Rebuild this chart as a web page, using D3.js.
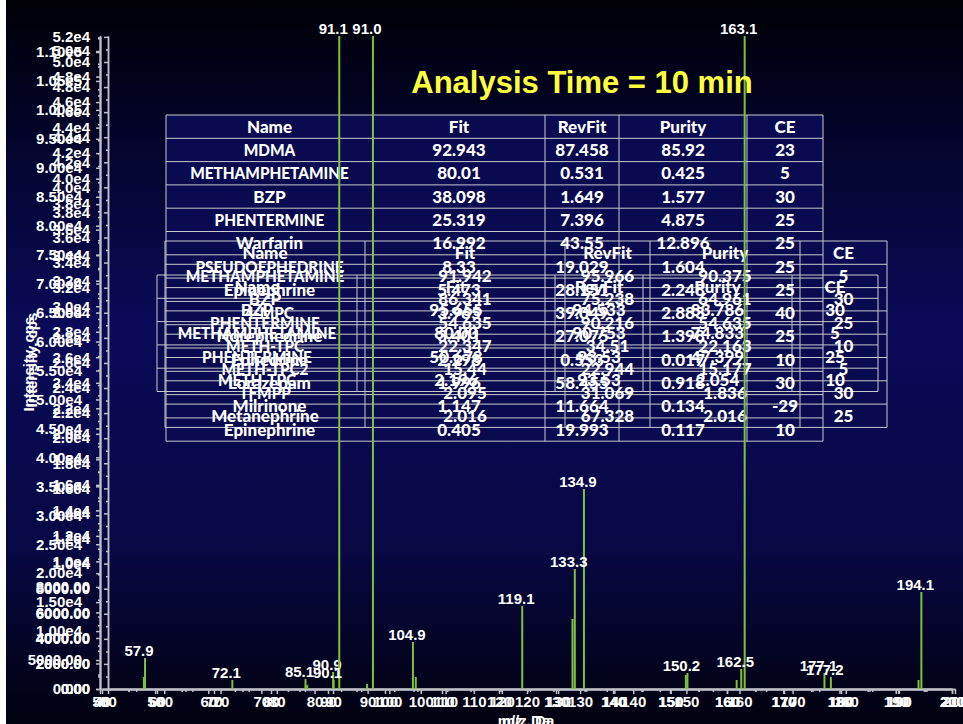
<!DOCTYPE html>
<html>
<head>
<meta charset="utf-8">
<title>Analysis Time = 10 min</title>
<script src="https://cdn.jsdelivr.net/npm/d3@7"></script>
<style>
  body { margin: 0; background: #000; }
  svg text { font-family: "Liberation Sans", Arial, sans-serif; font-weight: bold; }
  .tbl text { font-family: Lato, "Open Sans", sans-serif; font-size: 17px; font-weight: 900; }
</style>
</head>
<body>
<svg id="chart" width="963" height="724"></svg>
<script>
// spectrum 1 (x1 / yB)
var s1Mz  = [57.7, 57.9, 90.9, 104.9, 105.4, 132.9, 133.3, 134.9, 161.7, 162.5, 163.1, 177.1, 193.6, 194.1];
var s1Int = [2070, 5350, 2940, 8120, 2070, 12090, 20720, 34540, 1550, 3450, 112760, 2760, 1550, 16750];
var s1Lab = [57.9, 90.9, 104.9, 133.3, 134.9, 162.5, 163.1, 177.1, 194.1];
// spectrum 2 (x2 / yA2)
var s2Mz  = [89.9, 91.0, 119.1, 149.9, 150.2, 177.2];
var s2Int = [400, 52070, 6620, 1120, 1280, 960];
var s2Lab = [91.0, 119.1, 150.2, 177.2];
// spectrum 3 (x3 / yA1)
var s3Mz  = [72.1, 85.1, 85.4, 90.1, 91.1];
var s3Int = [705, 780, 310, 705, 51180];
var s3Lab = [72.1, 85.1, 90.1, 91.1];

// result tables
var header = ["Name", "Fit", "RevFit", "Purity", "CE"];
var t1Name   = ["MDMA", "METHAMPHETAMINE", "BZP", "PHENTERMINE", "Warfarin", "PSEUDOEPHEDRINE", "Epinephrine", "4-MPC", "Norephedrine", "Ephedrine", "Lorazepam", "Milrinone", "Epinephrine"];
var t1Fit    = ["92.943", "80.01", "38.098", "25.319", "16.992", "8.33", "5.473", "3.965", "3.401", "2.298", "1.996", "1.147", "0.405"];
var t1RevFit = ["87.458", "0.531", "1.649", "7.396", "43.55", "19.029", "28.151", "39.049", "27.075", "0.553", "58.455", "11.664", "19.993"];
var t1Purity = ["85.92", "0.425", "1.577", "4.875", "12.896", "1.604", "2.248", "2.883", "1.398", "0.017", "0.918", "0.134", "0.117"];
var t1CE     = ["23", "5", "30", "25", "25", "25", "25", "40", "25", "10", "30", "-29", "10"];

var t2Name   = ["METHAMPHETAMINE", "BZP", "PHENTERMINE", "METH-TPC", "METH-TPC2", "TFMPP", "Metanephrine"];
var t2Fit    = ["91.942", "86.341", "54.635", "22.347", "15.44", "2.095", "2.016"];
var t2RevFit = ["95.966", "75.238", "90.216", "34.51", "22.944", "31.069", "67.328"];
var t2Purity = ["90.375", "64.961", "54.635", "22.163", "15.177", "1.836", "2.016"];
var t2CE     = ["5", "30", "25", "10", "5", "30", "25"];

var t3Name   = ["BZP", "METHAMPHETAMINE", "PHENTERMINE", "METH-TPC"];
var t3Fit    = ["95.655", "80.00", "50.678", "2.196"];
var t3RevFit = ["94.533", "90.753", "93.53", "93.53"];
var t3Purity = ["83.786", "74.833", "47.399", "2.054"];
var t3CE     = ["30", "5", "25", "10"];

var W = 963, H = 724;
var yBase = 689, yTop = 36;
var svg = d3.select("#chart");

// background
var grad = svg.append("defs").append("linearGradient")
  .attr("id", "bg").attr("x1", 0).attr("y1", 0).attr("x2", 0).attr("y2", 1);
[[0, "#000006"], [0.12, "#02021e"], [0.45, "#0a0a58"], [0.75, "#080845"], [1, "#01010f"]]
  .forEach(function(s) { grad.append("stop").attr("offset", s[0]).attr("stop-color", s[1]); });
svg.append("rect").attr("width", W).attr("height", H).attr("fill", "url(#bg)");
svg.append("rect").attr("width", 6).attr("height", H).attr("fill", "#fff");

// scales
var x1 = d3.scaleLinear().domain([50, 200]).range([100, 955]);
var x2 = d3.scaleLinear().domain([40, 200]).range([102, 952]);
var x3 = d3.scaleLinear().domain([50, 200]).range([108, 952]);
var yB  = d3.scaleLinear().domain([0, 112760]).range([yBase, yTop]);
var yA1 = d3.scaleLinear().domain([0, 51180]).range([yBase, yTop]);
var yA2 = d3.scaleLinear().domain([0, 52070]).range([yBase, yTop]);

// tables
function rows(n, f, r, p, c) {
  return [header].concat(n.map(function(d, i) { return [d, f[i], r[i], p[i], c[i]]; }));
}
var tables = [
  { cols: [166, 373, 545, 619, 747, 823], top: 115, rows: rows(t1Name, t1Fit, t1RevFit, t1Purity, t1CE) },
  { cols: [165, 365, 565, 650, 800, 887], top: 241, rows: rows(t2Name, t2Fit, t2RevFit, t2Purity, t2CE) },
  { cols: [157, 357, 555, 643, 792, 878], top: 275, rows: rows(t3Name, t3Fit, t3RevFit, t3Purity, t3CE) }
];
var rowH = 23.3;
tables.forEach(function(t) {
  t.y = d3.scaleBand().domain(d3.range(t.rows.length)).range([t.top, t.top + t.rows.length * rowH]);
});
var tg = svg.append("g").attr("class", "tbl");
var fills = tg.append("g"), grid = tg.append("g"), texts = tg.append("g");
tables.forEach(function(t) {
  var c = t.cols, y0 = t.y.range()[0], y1 = t.y.range()[1];
  fills.append("rect").attr("x", c[0]).attr("y", y0)
    .attr("width", c[c.length - 1] - c[0]).attr("height", y1 - y0).attr("fill", "#0a0a50");
  grid.selectAll(null).data(d3.range(t.rows.length + 1)).enter().append("line")
    .attr("x1", c[0]).attr("x2", c[c.length - 1])
    .attr("y1", function(i) { return y0 + i * rowH; }).attr("y2", function(i) { return y0 + i * rowH; })
    .attr("stroke", "#c8c8d0").attr("stroke-width", 1);
  grid.selectAll(null).data(c).enter().append("line")
    .attr("x1", function(d) { return d; }).attr("x2", function(d) { return d; })
    .attr("y1", y0).attr("y2", y1).attr("stroke", "#c8c8d0").attr("stroke-width", 1);
  t.rows.forEach(function(r, i) {
    texts.selectAll(null).data(r).enter().append("text")
      .attr("x", function(d, j) { return (c[j] + c[j + 1]) / 2; })
      .attr("y", t.y(i) + rowH / 2)
      .attr("dy", "0.36em")
      .attr("text-anchor", "middle")
      .attr("fill", "#fff")
      .text(function(d) { return d; })
      .each(function(d) {
        // caps names: narrower like the original font
        if (/^[A-Z0-9\-]+$/.test(d) && d.length > 3) {
          var w = this.getComputedTextLength();
          d3.select(this).attr("textLength", w * 0.9).attr("lengthAdjust", "spacingAndGlyphs");
        }
      });
  });
});

// axes
function fmtA(v) { return v < 10000 ? v.toFixed(2) : (v / 1e4).toFixed(1) + "e4"; }
function fmtB(v) { return v < 10000 ? v.toFixed(2) : v < 1e5 ? (v / 1e4).toFixed(2) + "e4" : (v / 1e5).toFixed(2) + "e5"; }
function styleAxis(g) {
  g.selectAll("path, line").attr("stroke", "#c0c0c8").attr("stroke-width", 1.5);
  g.selectAll("text").attr("fill", "#fff").attr("font-size", 15)
    .attr("font-family", "Liberation Sans, Arial, sans-serif").attr("font-weight", "bold");
}
var yAxes = [
  { s: yA1, x: 100, step: 2000, fmt: fmtA, pad: 6 },
  { s: yA2, x: 108, step: 2000, fmt: fmtA, pad: 14 },
  { s: yB,  x: 100, step: 5000, fmt: fmtB, pad: 14 }
];
yAxes.forEach(function(a) {
  var max = a.s.domain()[1];
  var maj = d3.range(0, max + 1, a.step);
  var minr = d3.range(a.step / 2, max, a.step);
  svg.append("g").attr("transform", "translate(" + a.x + ",0)")
    .call(d3.axisLeft(a.s).tickValues(minr).tickSize(2).tickFormat("").tickSizeOuter(0)).call(styleAxis);
  svg.append("g").attr("transform", "translate(" + a.x + ",0)")
    .call(d3.axisLeft(a.s).tickValues(maj).tickSize(4).tickPadding(a.pad).tickFormat(a.fmt).tickSizeOuter(0))
    .call(styleAxis);
});
[x1, x2, x3].forEach(function(s) {
  var d = s.domain();
  svg.append("g").attr("transform", "translate(0," + yBase + ")")
    .call(d3.axisBottom(s).tickValues(d3.range(d[0] + 5, d[1], 10)).tickSize(3).tickFormat("").tickSizeOuter(0))
    .call(styleAxis);
  svg.append("g").attr("transform", "translate(0," + yBase + ")")
    .call(d3.axisBottom(s).tickValues(d3.range(d[0], d[1] + 1, 10)).tickSize(5).tickPadding(2).tickSizeOuter(0))
    .call(styleAxis);
});

// axis titles
[[0, 0], [3, 4]].forEach(function(o) {
  svg.append("text").attr("transform", "translate(" + (37 - o[0]) + "," + (360 + o[1]) + ") rotate(-90)")
    .attr("text-anchor", "middle").attr("fill", "#fff").attr("font-size", 15).text("Intensity, cps");
  svg.append("text").attr("x", 524 + o[1]).attr("y", 726)
    .attr("text-anchor", "middle").attr("fill", "#fff").attr("font-size", 15).text("m/z, Da");
});

// spectra
var spectra = [
  { mz: s1Mz, it: s1Int, lab: s1Lab, x: x1, y: yB },
  { mz: s2Mz, it: s2Int, lab: s2Lab, x: x2, y: yA2 },
  { mz: s3Mz, it: s3Int, lab: s3Lab, x: x3, y: yA1 }
];
var pg = svg.append("g");
spectra.forEach(function(s) {
  var pts = s.mz.map(function(m, i) { return { mz: m, v: s.it[i] }; });
  pg.selectAll(null).data(pts).enter().append("line")
    .attr("x1", function(d) { return s.x(d.mz); }).attr("x2", function(d) { return s.x(d.mz); })
    .attr("y1", yBase).attr("y2", function(d) { return s.y(d.v); })
    .attr("stroke", "#7cc242").attr("stroke-width", 2);
  pg.selectAll(null).data(pts.filter(function(d) { return s.lab.indexOf(d.mz) >= 0; })).enter().append("text")
    .attr("x", function(d) { return s.x(d.mz) - 6; })
    .attr("y", function(d) { return s.y(d.v) - 2; })
    .attr("text-anchor", "middle").attr("fill", "#fff").attr("font-size", 15)
    .text(function(d) { return d.mz.toFixed(1); });
});

// title
svg.append("text").attr("x", 582).attr("y", 93).attr("text-anchor", "middle")
  .attr("fill", "#ffff3c").attr("font-size", 31).text("Analysis Time = 10 min");
</script>
</body>
</html>
